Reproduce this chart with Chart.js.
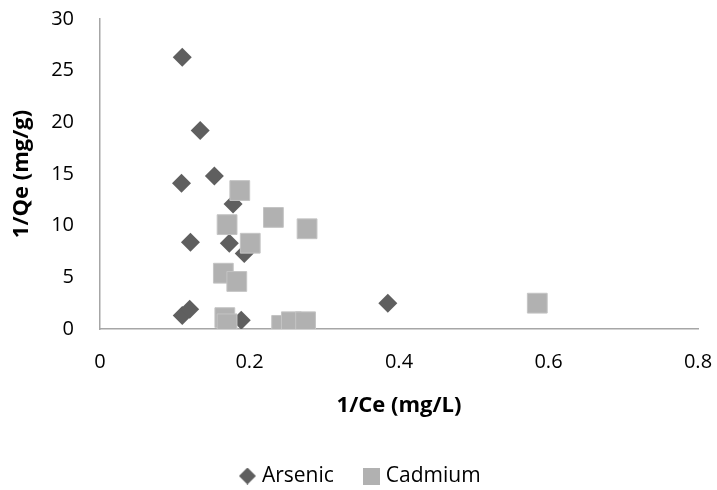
<!DOCTYPE html>
<html>
<head>
<meta charset="utf-8">
<script src="https://cdn.jsdelivr.net/npm/chart.js@4.4.1/dist/chart.umd.min.js"></script>
<style>
  html, body { margin: 0; padding: 0; background: #fff; }
  #wrap { width: 717px; height: 490px; }
</style>
</head>
<body>
<div id="wrap"><canvas id="grafica"></canvas></div>
<script>
// data
const seriesNames = ['Arsenic', 'Cadmium'];
const arsenicX = [0.110, 0.134, 0.109, 0.153, 0.178, 0.121, 0.173, 0.193, 0.110, 0.120, 0.189, 0.385];
const arsenicY = [26.3, 19.2, 14.1, 14.8, 12.1, 8.4, 8.3, 7.3, 1.3, 1.9, 0.85, 2.5];
const cadmiumX = [0.187, 0.232, 0.170, 0.277, 0.201, 0.165, 0.183, 0.167, 0.170, 0.243, 0.256, 0.275, 0.585];
const cadmiumY = [13.4, 10.8, 10.1, 9.7, 8.3, 5.4, 4.6, 1.1, 0.5, 0.35, 0.7, 0.7, 2.5];
const xTicks = [0, 0.2, 0.4, 0.6, 0.8];
const yTicks = [0, 5, 10, 15, 20, 25, 30];

const colorArsenic = '#5f5f5f';
const colorCadmium = '#b1b1b1';
const fuente = "'Open Sans', Lato, sans-serif";

const toPoints = (xs, ys) => xs.map((x, i) => ({x: x, y: ys[i]}));

// small canvases used as legend markers
const marcador = (tipo, color, size) => {
    const c = document.createElement('canvas');
    c.width = size; c.height = size;
    const ctx = c.getContext('2d');
    ctx.fillStyle = color;
    ctx.beginPath();
    if (tipo === 'diamond') {
        ctx.moveTo(size / 2, 0);
        ctx.lineTo(size, size / 2);
        ctx.lineTo(size / 2, size);
        ctx.lineTo(0, size / 2);
        ctx.closePath();
    } else {
        ctx.rect(0, 0, size, size);
    }
    ctx.fill();
    return c;
};
const legendArsenic = marcador('diamond', colorArsenic, 17);
const legendCadmium = marcador('square', colorCadmium, 17);

// nudge the legend row sideways (excel centres it a bit right of ours)
const moverLeyenda = {
    id: 'moverLeyenda',
    afterLayout(chart) {
        chart.legend.left += 13;
        chart.legend.right += 13;
    }
};

// ticks.padding also gets added to the scale edge padding, undo that
const sinPaddingX = (scale) => {
    scale.height = 103;
    scale.paddingLeft = 5;
    scale.paddingRight = 15;
};
const sinPaddingY = (scale) => {
    scale.width = 100;
    scale.paddingTop = 12;
    scale.paddingBottom = 12;
};

new Chart(document.getElementById('grafica'), {
    type: 'scatter',
    data: {
        datasets: [{
            label: seriesNames[0],
            data: toPoints(arsenicX, arsenicY),
            pointStyle: 'rectRot',
            pointRadius: 9.5,
            pointHoverRadius: 9.5,
            backgroundColor: colorArsenic,
            borderColor: colorArsenic,
            borderWidth: 0,
            order: 1
        }, {
            label: seriesNames[1],
            data: toPoints(cadmiumX, cadmiumY),
            pointStyle: 'rect',
            pointRadius: 14,
            pointHoverRadius: 14,
            backgroundColor: colorCadmium,
            borderColor: '#c4c4c4',
            borderWidth: 1,
            order: 0
        }]
    },
    plugins: [moverLeyenda],
    options: {
        responsive: true,
        maintainAspectRatio: false,
        animation: false,
        layout: { autoPadding: false, padding: { top: 19, right: 19, left: 0, bottom: -6.5 } },
        plugins: {
            tooltip: { enabled: false },
            legend: {
                position: 'bottom',
                labels: {
                    usePointStyle: true,
                    boxWidth: 8,
                    boxHeight: 8,
                    padding: 33.5,
                    color: '#000',
                    font: { family: fuente, size: 21 },
                    generateLabels: () => [
                        { text: seriesNames[0], pointStyle: legendArsenic, fillStyle: colorArsenic, strokeStyle: colorArsenic, lineWidth: 0, datasetIndex: 0, hidden: false },
                        { text: seriesNames[1], pointStyle: legendCadmium, fillStyle: colorCadmium, strokeStyle: colorCadmium, lineWidth: 0, datasetIndex: 1, hidden: false }
                    ]
                }
            }
        },
        scales: {
            x: {
                type: 'linear',
                min: 0,
                max: 0.8,
                afterFit: sinPaddingX,
                afterBuildTicks: (scale) => { scale.ticks = xTicks.map(v => ({value: v})); },
                grid: { display: false, drawTicks: false },
                border: { display: true, color: '#a6a6a6', width: 1.5 },
                ticks: {
                    padding: 21,
                    color: '#000',
                    font: { family: fuente, size: 20 },
                    callback: (v) => String(v)
                },
                title: {
                    display: true,
                    text: '1/Ce (mg/L)',
                    color: '#000',
                    font: { family: fuente, size: 22, weight: 'bold' },
                    padding: { top: 0, bottom: 12.8 }
                }
            },
            y: {
                type: 'linear',
                min: 0,
                max: 30,
                afterFit: sinPaddingY,
                afterBuildTicks: (scale) => { scale.ticks = yTicks.map(v => ({value: v})); },
                grid: { display: false, drawTicks: false },
                border: { display: true, color: '#a6a6a6', width: 1.5 },
                ticks: {
                    padding: 26,
                    color: '#000',
                    font: { family: fuente, size: 20 }
                },
                title: {
                    display: true,
                    text: '1/Qe (mg/g)',
                    color: '#000',
                    font: { family: fuente, size: 22, weight: 'bold' },
                    padding: { top: 8.8, bottom: 0 }
                }
            }
        }
    }
});
</script>
</body>
</html>
